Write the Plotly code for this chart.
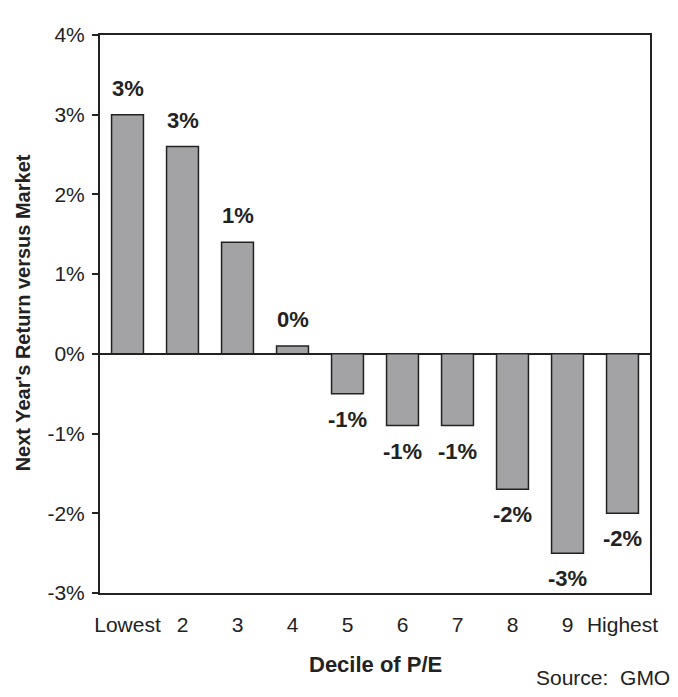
import plotly.graph_objects as go

categories = ["Lowest", "2", "3", "4", "5", "6", "7", "8", "9", "Highest"]
values = [3.0, 2.6, 1.4, 0.1, -0.5, -0.9, -0.9, -1.7, -2.5, -2.0]
labels = ["3%", "3%", "1%", "0%", "-1%", "-1%", "-1%", "-2%", "-3%", "-2%"]
yticks = [4, 3, 2, 1, 0, -1, -2, -3]
ytick_text = ["4%", "3%", "2%", "1%", "0%", "-1%", "-2%", "-3%"]

FONT = "Liberation Sans, Arial, sans-serif"
INK = "#222222"

fig = go.Figure()
fig.add_trace(go.Bar(
    x=list(range(len(categories))), y=values,
    marker=dict(color="#a3a3a6", line=dict(color=INK, width=1.5)),
    width=0.58,
))

annotations = []
for i, (v, t) in enumerate(zip(values, labels)):
    annotations.append(dict(
        x=i, y=v, xref="x", yref="y", text="<b>" + t + "</b>", showarrow=False,
        font=dict(family=FONT, size=22, color=INK),
        yanchor="bottom" if v >= 0 else "top",
        yshift=12 if v >= 0 else -11,
    ))
annotations.append(dict(
    x=-0.141, y=0.502, xref="paper", yref="paper", text="<b>Next Year's Return versus Market</b>",
    showarrow=False, textangle=-90, font=dict(family=FONT, size=20, color=INK),
    xanchor="center", yanchor="middle"))
annotations.append(dict(
    x=0.5, y=-0.129, xref="paper", yref="paper", text="<b>Decile of P/E</b>",
    showarrow=False, font=dict(family=FONT, size=22, color=INK),
    xanchor="center", yanchor="middle"))
annotations.append(dict(
    x=1.04, y=-0.152, xref="paper", yref="paper", text="Source:  GMO",
    showarrow=False, font=dict(family=FONT, size=21, color=INK),
    xanchor="right", yanchor="middle"))

fig.update_layout(
    width=662, height=681,
    margin=dict(l=92, r=16, t=27, b=96),
    paper_bgcolor="white", plot_bgcolor="white",
    showlegend=False,
    annotations=annotations,
    font=dict(family=FONT, color=INK),
)
fig.update_xaxes(
    tickvals=list(range(len(categories))), ticktext=categories,
    range=[-0.5, len(categories) - 0.5],
    showline=True, linecolor=INK, linewidth=2, mirror=True,
    ticks="", showgrid=False, zeroline=False,
    ticklabelstandoff=12,
    tickfont=dict(family=FONT, size=21, color=INK),
)
fig.update_yaxes(
    range=[-3, 4], tickvals=yticks, ticktext=ytick_text,
    showline=True, linecolor=INK, linewidth=2, mirror=True,
    ticks="outside", ticklen=6, tickcolor=INK, tickwidth=1.5,
    showgrid=False, zeroline=True, zerolinecolor=INK, zerolinewidth=1.5,
    ticklabelstandoff=3,
    tickfont=dict(family=FONT, size=21, color=INK),
)

fig.write_html("out.html")
